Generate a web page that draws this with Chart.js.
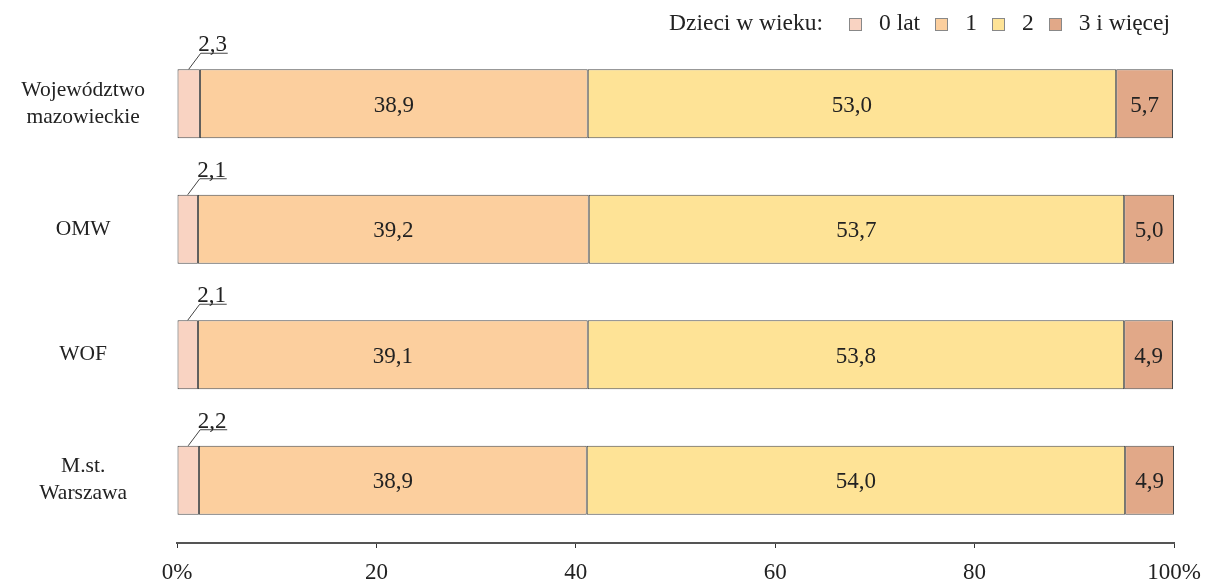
<!DOCTYPE html>
<html>
<head>
<meta charset="utf-8">
<script src="https://cdn.jsdelivr.net/npm/chart.js@4/dist/chart.umd.min.js"></script>
<style>
  html, body { margin: 0; padding: 0; background: #fff; }
</style>
</head>
<body>
<canvas id="chart" width="1215" height="583"></canvas>
<script>
const categories = [['Województwo', 'mazowieckie'], 'OMW', 'WOF', ['M.st.', 'Warszawa']];
const seriesNames = ['0 lat', '1', '2', '3 i więcej'];
const age0 = [2.3, 2.1, 2.1, 2.2];
const age1 = [38.9, 39.2, 39.1, 38.9];
const age2 = [53.0, 53.7, 53.8, 54.0];
const age3 = [5.7, 5.0, 4.9, 4.9];
const xTickLabels = ['0%', '20', '40', '60', '80', '100%'];
const legendTitle = 'Dzieci w wieku:';

const colors = ['#f9d3c2', '#fccf9e', '#fee396', '#e1a888'];
const FONT = "'Liberation Serif', 'Times New Roman', serif";
const fmt = v => v.toFixed(1).replace('.', ',');

// value labels inside segments, the small first segment gets a leader line
const valueLabels = {
    id: 'valueLabels',
    afterDatasetsDraw(chart) {
        const ctx = chart.ctx;
        ctx.save();
        ctx.font = `23px ${FONT}`;
        ctx.fillStyle = '#222';
        chart.data.datasets.forEach((ds, di) => {
            const meta = chart.getDatasetMeta(di);
            meta.data.forEach((bar, i) => {
                const txt = fmt(ds.data[i]);
                const cx = (bar.x + bar.base) / 2;
                if (di === 0) {
                    const top = bar.y - bar.height / 2;
                    ctx.strokeStyle = '#444';
                    ctx.lineWidth = 1;
                    ctx.beginPath();
                    ctx.moveTo(cx, top);
                    ctx.lineTo(cx + 12, top - 16);
                    ctx.lineTo(cx + 39, top - 16);
                    ctx.stroke();
                    ctx.textAlign = 'center';
                    ctx.textBaseline = 'alphabetic';
                    ctx.fillText(txt, cx + 24, top - 18);
                } else {
                    ctx.textAlign = 'center';
                    ctx.textBaseline = 'middle';
                    ctx.fillText(txt, cx, bar.y + 2);
                }
            });
        });
        ctx.restore();
    }
};

// legend in one row at top right, title in front of the boxes
const inlineLegend = {
    id: 'inlineLegend',
    afterDraw(chart) {
        const ctx = chart.ctx;
        ctx.save();
        ctx.font = `23.5px ${FONT}`;
        ctx.textBaseline = 'middle';
        ctx.textAlign = 'left';
        const y = 24;
        const box = 13, boxGap = 17, itemGap = 15, titleGap = 26;
        let x = 1170;
        const items = chart.data.datasets.map(ds => ({ label: ds.label, color: ds.backgroundColor }));
        const pos = [];
        for (let k = items.length - 1; k >= 0; k--) {
            const w = ctx.measureText(items[k].label).width;
            x -= w;
            const tx = x;
            x -= boxGap;
            x -= box;
            pos[k] = { bx: Math.round(x), tx: tx };
            x -= itemGap;
        }
        x += itemGap - titleGap;
        ctx.fillStyle = '#222';
        ctx.textAlign = 'right';
        ctx.fillText(legendTitle, x, y);
        ctx.textAlign = 'left';
        items.forEach((it, k) => {
            ctx.fillStyle = it.color;
            ctx.fillRect(pos[k].bx, y - 6, box, box);
            ctx.strokeStyle = '#888';
            ctx.lineWidth = 1;
            ctx.strokeRect(pos[k].bx + 0.5, y - 6 + 0.5, box - 1, box - 1);
            ctx.fillStyle = '#222';
            ctx.fillText(it.label, pos[k].tx, y);
        });
        ctx.restore();
    }
};

const seriesData = [age0, age1, age2, age3];

new Chart(document.getElementById('chart').getContext('2d'), {
    type: 'bar',
    data: {
        labels: categories,
        datasets: seriesData.map((d, i) => ({
            label: seriesNames[i],
            data: d,
            backgroundColor: colors[i],
            borderColor: '#4a4a4a',
            borderWidth: 1,
            borderSkipped: false,
            categoryPercentage: 1,
            barPercentage: 0.55
        }))
    },
    options: {
        indexAxis: 'y',
        responsive: false,
        animation: false,
        devicePixelRatio: 1,
        layout: { padding: { top: 41, right: 41, left: 0, bottom: 0 } },
        plugins: {
            legend: { display: false },
            tooltip: { enabled: false }
        },
        scales: {
            x: {
                stacked: true,
                min: 0,
                max: 100,
                afterFit: s => { s.height = 40; },
                border: { display: true, color: '#555', width: 2 },
                grid: { display: true, drawOnChartArea: false, drawTicks: true, tickLength: 5, color: '#333' },
                ticks: {
                    stepSize: 20,
                    padding: 11,
                    color: '#222',
                    font: { family: FONT, size: 23 },
                    maxRotation: 0,
                    callback: (v, i) => xTickLabels[i]
                }
            },
            y: {
                stacked: true,
                afterFit: s => { s.width = 177; s.paddingTop = 0; s.paddingBottom = 0; },
                border: { display: false },
                grid: { display: false, drawTicks: false },
                ticks: {
                    crossAlign: 'center',
                    padding: 32,
                    color: '#222',
                    font: { family: FONT, size: 21.5, lineHeight: 1.25 }
                }
            }
        }
    },
    plugins: [valueLabels, inlineLegend]
});
</script>
</body>
</html>
